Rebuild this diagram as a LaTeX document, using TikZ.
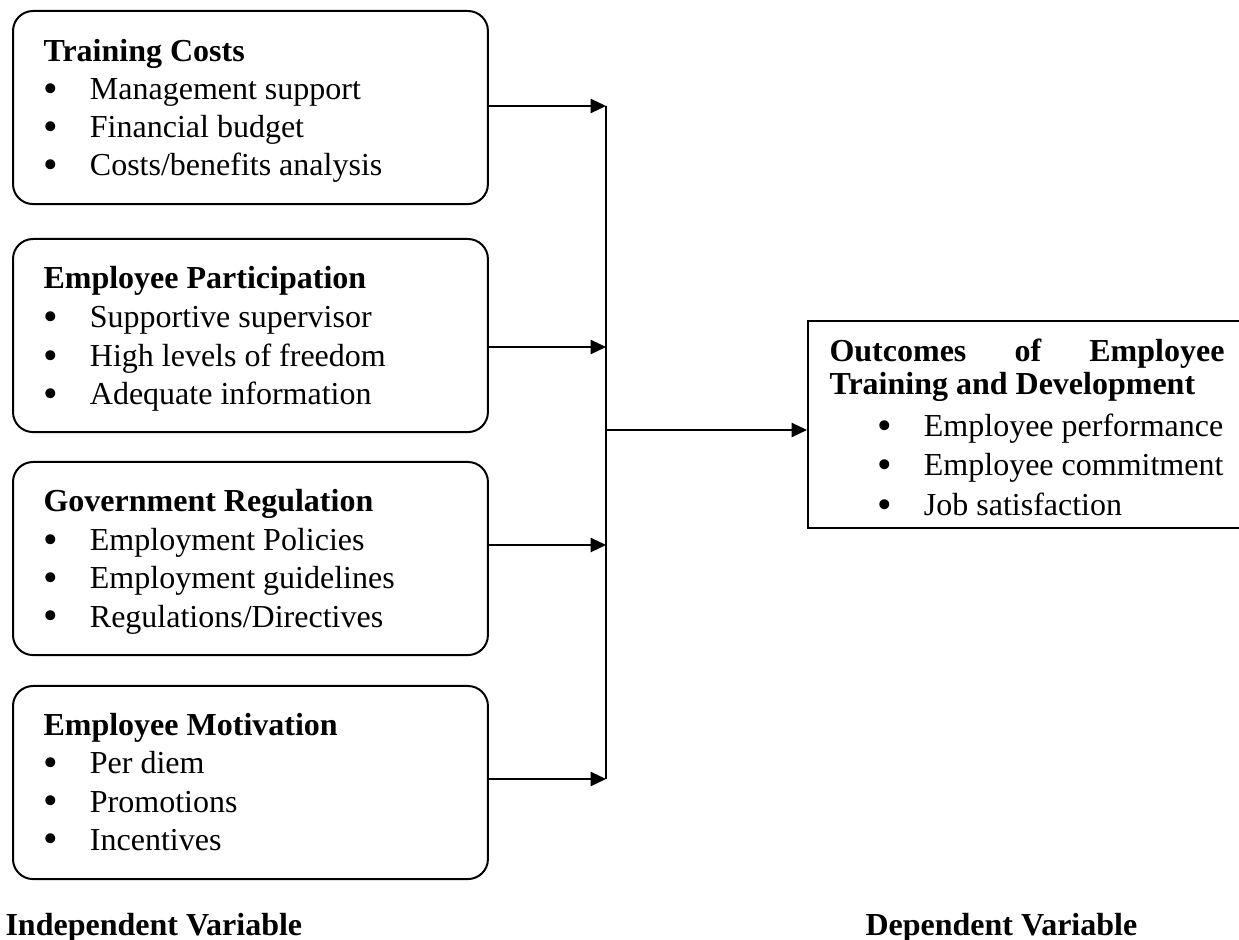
\documentclass[tikz,border=0pt]{standalone}
\usepackage{fontspec}
\setmainfont{Liberation Serif}
\usepackage{graphicx}
\usetikzlibrary{arrows.meta,calc}
\newcommand\bulmark{\smash{\raisebox{-0.2ex}{\scalebox{1.3}{\textbullet}}}}
\newcommand\bul[1]{\makebox[17.4pt][l]{\bulmark}#1}
\begin{document}
\begin{tikzpicture}[x=0.375pt,y=-0.375pt,
  box/.style={draw, line width=0.75pt, rounded corners=7.5pt, anchor=north west,
    inner sep=0pt, minimum width=178.1pt, minimum height=72.4pt},
  outbox/.style={draw, line width=0.75pt, anchor=north west, inner sep=0pt,
    minimum width=175pt, minimum height=77.6pt},
  txt/.style={anchor=base west, inner sep=0pt, font=\fontsize{12}{14}\selectfont},
  conn/.style={line width=0.5pt},
  arr/.style={line width=0.5pt, -{Triangle[length=5.8pt, width=5.4pt]}}]
\useasboundingbox (0,0) rectangle (1239,940);

% left boxes
\node[box] (b1) at (12,10) {};
\node[box] (b2) at (12,238) {};
\node[box] (b3) at (12,461) {};
\node[box] (b4) at (12,685) {};

\node[txt] (t1) at ($(b1.north west)+(31,52)$) {\textbf{Training Costs}};
\node[txt] (t1a) at ($(b1.north west)+(31,90)$) {\bul{Management support}};
\node[txt] (t1b) at ($(b1.north west)+(31,128)$) {\bul{Financial budget}};
\node[txt] (t1c) at ($(b1.north west)+(31,166)$) {\bul{Costs/benefits analysis}};

\node[txt] (t2) at ($(b2.north west)+(31,51)$) {\textbf{Employee Participation}};
\node[txt] (t2a) at ($(b2.north west)+(31,90)$) {\bul{Supportive supervisor}};
\node[txt] (t2b) at ($(b2.north west)+(31,129)$) {\bul{High levels of freedom}};
\node[txt] (t2c) at ($(b2.north west)+(31,167)$) {\bul{Adequate information}};

\node[txt] (t3) at ($(b3.north west)+(31,51)$) {\textbf{Government Regulation}};
\node[txt] (t3a) at ($(b3.north west)+(31,90)$) {\bul{Employment Policies}};
\node[txt] (t3b) at ($(b3.north west)+(31,128)$) {\bul{Employment guidelines}};
\node[txt] (t3c) at ($(b3.north west)+(31,166)$) {\bul{Regulations/Directives}};

\node[txt] (t4) at ($(b4.north west)+(31,51)$) {\textbf{Employee Motivation}};
\node[txt] (t4a) at ($(b4.north west)+(31,89)$) {\bul{Per diem}};
\node[txt] (t4b) at ($(b4.north west)+(31,127)$) {\bul{Promotions}};
\node[txt] (t4c) at ($(b4.north west)+(31,165)$) {\bul{Incentives}};

% outcome box
\node[outbox] (out) at (807,320) {};
\node[txt] (o1) at (829,362) {\makebox[148.1pt][s]{\textbf{Outcomes of Employee}}};
\node[txt] (o2) at (829,395) {\textbf{Training and Development}};
\node[txt] (o3) at (877,437) {\bul{Employee performance}};
\node[txt] (o4) at (877,476) {\bul{Employee commitment}};
\node[txt] (o5) at (877,516) {\bul{Job satisfaction}};

% connectors
\coordinate (j1) at (606,106);
\coordinate (j2) at (606,347);
\coordinate (j3) at (606,545);
\coordinate (j4) at (606,779);
\coordinate (jm) at (606,430);
\draw[arr] (b1.east |- j1) -- (j1);
\draw[arr] (b2.east |- j2) -- (j2);
\draw[arr] (b3.east |- j3) -- (j3);
\draw[arr] (b4.east |- j4) -- (j4);
\draw[conn] (j1) -- (j4);
\draw[arr] (jm) -- (out.west |- jm);

% labels
\node[txt] (li) at (5,935) {\textbf{Independent Variable}};
\node[txt] (ld) at (865,935) {\textbf{Dependent Variable}};
\end{tikzpicture}
\end{document}
